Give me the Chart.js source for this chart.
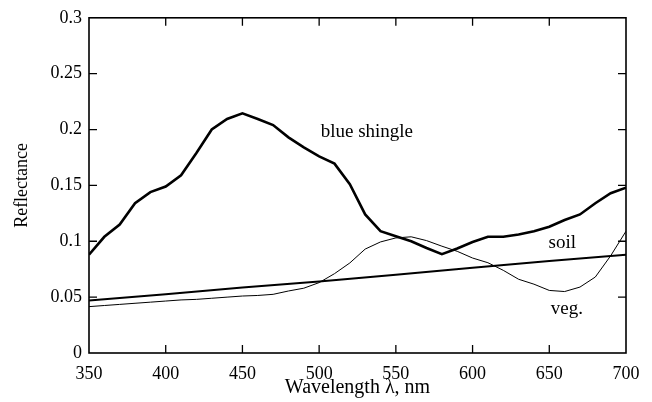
<!DOCTYPE html>
<html>
<head>
<meta charset="utf-8">
<script src="https://cdn.jsdelivr.net/npm/chart.js@4/dist/chart.umd.min.js"></script>
<style>
  html, body { margin: 0; padding: 0; background: #fff; }
  #wrap { width: 652px; height: 402px; }
</style>
</head>
<body>
<div id="wrap"><canvas id="c" width="652" height="402"></canvas></div>
<script>
// Wavelength samples (nm) for the measured spectra
const wavelengths = [350,360,370,380,390,400,410,420,430,440,450,460,470,480,490,500,
  510,520,530,540,550,560,570,580,590,600,610,620,630,640,650,660,670,680,690,700];

// Reflectance of a blue roof shingle
const blueShingle = [0.088,0.104,0.115,0.134,0.144,0.149,0.159,0.179,0.200,0.2095,0.2145,0.2095,0.204,0.193,0.184,0.176,
  0.1695,0.151,0.124,0.109,0.1045,0.100,0.094,0.0885,0.0935,0.0994,0.104,0.104,0.106,0.109,0.113,0.119,0.124,0.134,0.143,0.148];

// Reflectance of vegetation
const vegetation = [0.0415,0.0425,0.0435,0.0445,0.0455,0.0465,0.0475,0.048,0.049,0.050,0.051,0.0515,0.0525,0.0555,0.058,0.063,
  0.071,0.0806,0.093,0.0994,0.103,0.104,0.1006,0.0956,0.091,0.085,0.0808,0.074,0.066,0.0616,0.056,0.055,0.059,0.068,0.087,0.109];

// Reflectance of soil (nearly linear)
const soilWavelengths = [350,400,450,500,550,600,650,700];
const soil = [0.047,0.0525,0.0586,0.064,0.070,0.0763,0.0823,0.088];

// Axis tick values
const xTicks = [350,400,450,500,550,600,650,700];
const yTicks = [0,0.05,0.1,0.15,0.2,0.25,0.3];

// Curve names written next to the lines
const curveNames = ['blue shingle','soil','veg.'];

const pts = (xs, ys) => xs.map((x, i) => ({ x: x, y: ys[i] }));

// Boxed frame with inward-pointing tick marks on all four sides, plus curve names
const framePlugin = {
  id: 'frameTicks',
  afterDatasetsDraw(chart) {
    const { ctx, chartArea: a, scales: { x, y } } = chart;
    const len = 8;
    ctx.save();
    ctx.strokeStyle = '#000';
    ctx.lineWidth = 1.6;
    ctx.strokeRect(a.left, a.top, a.right - a.left, a.bottom - a.top);
    ctx.lineWidth = 1.3;
    ctx.beginPath();
    xTicks.slice(1, -1).forEach(v => {
      const px = x.getPixelForValue(v);
      ctx.moveTo(px, a.bottom); ctx.lineTo(px, a.bottom - len);
      ctx.moveTo(px, a.top); ctx.lineTo(px, a.top + len);
    });
    yTicks.slice(1, -1).forEach(v => {
      const py = y.getPixelForValue(v);
      ctx.moveTo(a.left, py); ctx.lineTo(a.left + len, py);
      ctx.moveTo(a.right, py); ctx.lineTo(a.right - len, py);
    });
    ctx.stroke();

    ctx.fillStyle = '#000';
    ctx.font = '19px "Liberation Serif"';
    ctx.textAlign = 'left';
    ctx.textBaseline = 'alphabetic';
    const anchors = [[501, 0.193], [649.5, 0.0936], [651, 0.035]];
    curveNames.forEach((t, i) => {
      ctx.fillText(t, x.getPixelForValue(anchors[i][0]), y.getPixelForValue(anchors[i][1]));
    });
    ctx.restore();
  }
};

const tickFont = { family: '"Liberation Serif"', size: 18 };

new Chart(document.getElementById('c'), {
  type: 'line',
  data: {
    datasets: [
      { label: 'blue shingle', data: pts(wavelengths, blueShingle), borderColor: '#000', borderWidth: 2.6, pointRadius: 0, tension: 0 },
      { label: 'soil', data: pts(soilWavelengths, soil), borderColor: '#000', borderWidth: 2.0, pointRadius: 0, tension: 0 },
      { label: 'veg.', data: pts(wavelengths, vegetation), borderColor: '#000', borderWidth: 1.0, pointRadius: 0, tension: 0 }
    ]
  },
  options: {
    responsive: false,
    animation: false,
    events: [],
    layout: { padding: { left: 0, right: 26, top: 15, bottom: 0 } },
    plugins: { legend: { display: false }, tooltip: { enabled: false } },
    scales: {
      x: {
        type: 'linear',
        min: 350, max: 700,
        border: { display: false },
        grid: { display: false, drawTicks: false },
        afterBuildTicks: s => { s.ticks = xTicks.map(v => ({ value: v })); },
        afterFit: s => { s.height = 49; },
        ticks: { color: '#000', font: tickFont, padding: 10, maxRotation: 0, autoSkip: false, callback: v => String(v) },
        title: { display: true, text: 'Wavelength \u03bb, nm', color: '#000', font: { family: '"Liberation Serif"', size: 20 }, padding: { top: 0, bottom: 2 } }
      },
      y: {
        type: 'linear',
        min: 0, max: 0.3,
        border: { display: false },
        grid: { display: false, drawTicks: false },
        afterBuildTicks: s => { s.ticks = yTicks.map(v => ({ value: v })); },
        afterFit: s => { s.width = 89; },
        ticks: { color: '#000', font: tickFont, padding: 7, autoSkip: false, callback: v => String(+v.toFixed(2)) },
        title: { display: true, text: 'Reflectance', color: '#000', font: { family: '"Liberation Serif"', size: 18 }, padding: { top: 11, bottom: 0 } }
      }
    }
  },
  plugins: [framePlugin]
});
</script>
</body>
</html>
